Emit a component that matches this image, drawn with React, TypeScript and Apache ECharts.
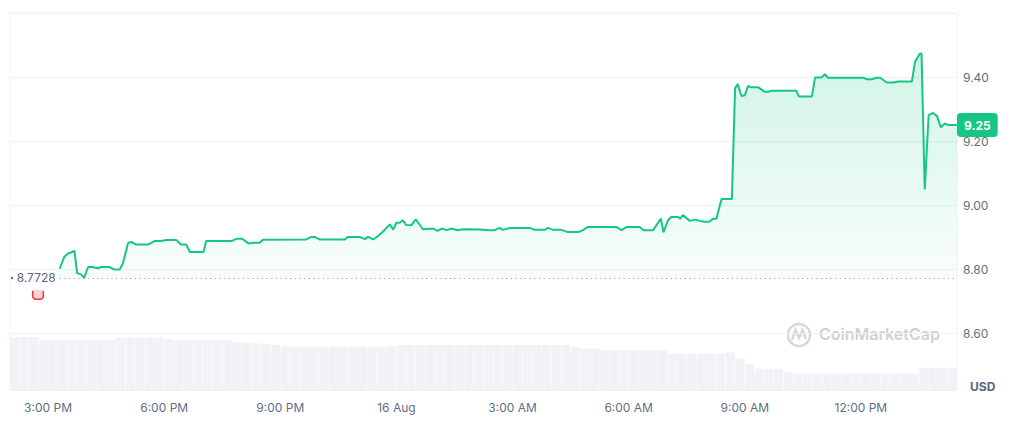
import { useEffect, useRef } from 'react'
import * as echarts from 'echarts'

// price points (MM-DD HH:MM, local time)
const priceTimes = [
  '08-15 15:18', '08-15 15:25', '08-15 15:31', '08-15 15:41', '08-15 15:45', '08-15 15:51',
  '08-15 15:56', '08-15 16:02', '08-15 16:09', '08-15 16:17', '08-15 16:22', '08-15 16:35',
  '08-15 16:43', '08-15 16:51', '08-15 16:56', '08-15 17:04', '08-15 17:09', '08-15 17:17',
  '08-15 17:35', '08-15 17:45', '08-15 17:55', '08-15 18:03', '08-15 18:19', '08-15 18:26',
  '08-15 18:34', '08-15 18:40', '08-15 19:01', '08-15 19:05', '08-15 19:44', '08-15 19:52',
  '08-15 20:01', '08-15 20:11', '08-15 20:18', '08-15 20:28', '08-15 20:33', '08-15 21:40',
  '08-15 21:48', '08-15 21:53', '08-15 22:01', '08-15 22:40', '08-15 22:45', '08-15 23:03',
  '08-15 23:11', '08-15 23:16', '08-15 23:24', '08-15 23:31', '08-15 23:39', '08-15 23:50',
  '08-15 23:55', '08-16 00:00', '08-16 00:05', '08-16 00:10', '08-16 00:15', '08-16 00:23',
  '08-16 00:30', '08-16 00:41', '08-16 00:57', '08-16 01:04', '08-16 01:10', '08-16 01:18',
  '08-16 01:25', '08-16 01:35', '08-16 01:43', '08-16 02:09', '08-16 02:25', '08-16 02:32',
  '08-16 02:40', '08-16 02:45', '08-16 02:56', '08-16 03:27', '08-16 03:34', '08-16 03:50',
  '08-16 03:55', '08-16 04:03', '08-16 04:16', '08-16 04:26', '08-16 04:42', '08-16 04:49',
  '08-16 04:57', '08-16 05:41', '08-16 05:49', '08-16 05:57', '08-16 06:17', '08-16 06:23',
  '08-16 06:38', '08-16 06:50', '08-16 06:54', '08-16 07:01', '08-16 07:06', '08-16 07:17',
  '08-16 07:20', '08-16 07:24', '08-16 07:35', '08-16 07:43', '08-16 07:50', '08-16 07:58',
  '08-16 08:05', '08-16 08:11', '08-16 08:16', '08-16 08:24', '08-16 08:40', '08-16 08:45',
  '08-16 08:49', '08-16 08:55', '08-16 09:00', '08-16 09:05', '08-16 09:10', '08-16 09:21',
  '08-16 09:31', '08-16 09:36', '08-16 09:42', '08-16 10:20', '08-16 10:24', '08-16 10:44',
  '08-16 10:49', '08-16 10:59', '08-16 11:04', '08-16 11:09', '08-16 12:04', '08-16 12:09',
  '08-16 12:17', '08-16 12:24', '08-16 12:30', '08-16 12:40', '08-16 12:50', '08-16 12:58',
  '08-16 13:19', '08-16 13:24', '08-16 13:31', '08-16 13:34', '08-16 13:39', '08-16 13:45',
  '08-16 13:52', '08-16 13:58', '08-16 14:04', '08-16 14:10', '08-16 14:16', '08-16 14:29',
]

const priceValues = [
  8.802, 8.838, 8.849, 8.857, 8.788, 8.784,
  8.773, 8.807, 8.807, 8.803, 8.807, 8.807,
  8.799, 8.799, 8.818, 8.882, 8.885, 8.877,
  8.877, 8.888, 8.888, 8.891, 8.891, 8.877,
  8.877, 8.854, 8.854, 8.888, 8.888, 8.895,
  8.895, 8.88, 8.883, 8.883, 8.892, 8.893,
  8.901, 8.901, 8.893, 8.893, 8.901, 8.901,
  8.894, 8.901, 8.893, 8.903, 8.917, 8.94,
  8.924, 8.945, 8.945, 8.953, 8.938, 8.937,
  8.956, 8.925, 8.927, 8.92, 8.927, 8.922,
  8.927, 8.922, 8.925, 8.924, 8.922, 8.922,
  8.929, 8.923, 8.929, 8.929, 8.923, 8.923,
  8.929, 8.923, 8.923, 8.916, 8.916, 8.922,
  8.932, 8.932, 8.922, 8.932, 8.932, 8.922,
  8.922, 8.958, 8.915, 8.953, 8.963, 8.963,
  8.958, 8.969, 8.951, 8.955, 8.951, 8.948,
  8.948, 8.958, 8.958, 9.019, 9.019, 9.365,
  9.378, 9.341, 9.343, 9.372, 9.368, 9.368,
  9.354, 9.354, 9.357, 9.357, 9.339, 9.339,
  9.399, 9.399, 9.409, 9.398, 9.398, 9.393,
  9.393, 9.398, 9.398, 9.383, 9.383, 9.386,
  9.386, 9.448, 9.472, 9.474, 9.049, 9.281,
  9.288, 9.278, 9.243, 9.255, 9.25, 9.25,
]

// 24h volume, one bar every 15 minutes from 14:00 (thousand USD)
const volumeStart = '08-15 14:00'
const volumeValues = [
  530, 530, 530, 500, 497, 497, 497, 497, 497, 497,
  497, 524, 524, 524, 524, 524, 510, 497, 497, 497,
  497, 497, 497, 480, 473, 466, 460, 453, 435, 430,
  430, 430, 430, 430, 430, 430, 430, 430, 430, 435,
  447, 447, 447, 447, 447, 447, 447, 447, 447, 447,
  447, 447, 447, 447, 447, 447, 447, 447, 430, 414,
  414, 397, 397, 397, 397, 397, 397, 397, 364, 364,
  364, 364, 364, 364, 375, 314, 264, 214, 214, 214,
  180, 164, 164, 164, 164, 164, 164, 164, 164, 164,
  164, 164, 164, 164, 224, 224, 224, 224,
]

const xTicks = [
  '08-15 15:00', '08-15 18:00', '08-15 21:00', '08-16 00:00',
  '08-16 03:00', '08-16 06:00', '08-16 09:00', '08-16 12:00',
]
const yTicks = [8.6, 8.8, 9.0, 9.2, 9.4]

const openPrice = 8.7728
const lastPrice = 9.25

const toTime = (s: string) => {
  const [md, hm] = s.split(' ')
  const [mo, d] = md.split('-').map(Number)
  const [h, m] = hm.split(':').map(Number)
  return new Date(2024, mo - 1, d, h, m).getTime()
}

const GREEN = '#16c784'
const GREY_TEXT = '#616e85'
const LINE = '#eff2f5'

export default function App() {
  const chartRef = useRef<HTMLDivElement>(null)

  useEffect(() => {
    if (!chartRef.current) return
    const chart = echarts.init(chartRef.current, undefined, { renderer: 'svg' })

    const priceData = priceTimes.map((t, i) => [toTime(t), priceValues[i]])
    const step = 15 * 60 * 1000
    const vStart = toTime(volumeStart)
    const volumeData = volumeValues.map((v, i) => [vStart + step * (i + 0.5), v])

    const xMin = toTime('08-15 14:01')
    const xMax = toTime('08-16 14:29')

    chart.setOption({
      animation: false,
      textStyle: { fontFamily: 'Inter' },
      grid: {
        left: 10,
        right: 53,
        top: 13,
        bottom: 42,
        show: true,
        borderColor: LINE,
        borderWidth: 1,
      },
      xAxis: {
        type: 'value',
        min: xMin,
        max: xMax,
        axisLine: { show: false },
        axisTick: { show: false },
        splitLine: { show: false },
        axisLabel: {
          color: GREY_TEXT,
          fontSize: 12,
          margin: 11,
          customValues: xTicks.map(toTime),
          formatter: (value: number) => {
            const d = new Date(value)
            const h = d.getHours()
            if (h === 0) return `${d.getDate()} Aug`
            const h12 = h % 12 === 0 ? 12 : h % 12
            return `${h12}:00 ${h < 12 ? 'AM' : 'PM'}`
          },
        },
      },
      yAxis: [
        {
          type: 'value',
          position: 'right',
          min: 8.423,
          max: 9.6,
          splitNumber: 5,
          axisLine: { show: false },
          axisTick: { show: false },
          splitLine: { lineStyle: { color: LINE } },
          axisLabel: {
            color: GREY_TEXT,
            fontSize: 12,
            margin: 6,
            showMinLabel: false,
            showMaxLabel: false,
            formatter: (v: number) =>
              yTicks.some((t) => Math.abs(t - v) < 1e-6) ? v.toFixed(2) : '',
          },
        },
        {
          type: 'value',
          min: 0,
          max: 3767,
          show: false,
          splitLine: { show: false },
        },
      ],
      series: [
        {
          name: 'Volume',
          type: 'custom',
          yAxisIndex: 1,
          silent: true,
          clip: true,
          data: volumeData,
          encode: { x: 0, y: 1 },
          renderItem: (_params: unknown, api: any) => {
            const t = api.value(0)
            const v = api.value(1)
            const top = api.coord([t - step / 2, v])
            const bottom = api.coord([t + step / 2, 0])
            return {
              type: 'rect',
              shape: {
                x: top[0] + 0.25,
                y: top[1],
                width: bottom[0] - top[0] - 0.5,
                height: bottom[1] - top[1],
              },
              style: { fill: '#f0f2f5' },
            }
          },
        },
        {
          name: 'Price',
          type: 'line',
          data: priceData,
          showSymbol: false,
          lineStyle: { color: GREEN, width: 2 },
          itemStyle: { color: GREEN },
          areaStyle: {
            origin: openPrice,
            color: new echarts.graphic.LinearGradient(0, 0, 0, 1, [
              { offset: 0, color: 'rgba(22,199,132,0.28)' },
              { offset: 1, color: 'rgba(22,199,132,0.04)' },
            ]),
          },
          markLine: {
            silent: true,
            symbol: ['none', 'none'],
            data: [
              [
                {
                  coord: [priceData[0][0], openPrice],
                  lineStyle: { color: '#9aa4b6', type: [1.2, 3.5], width: 1.2 },
                  label: {
                    show: true,
                    position: 'start',
                    formatter: String(openPrice),
                    color: '#58667e',
                    fontSize: 12,
                    distance: 4,
                  },
                },
                { coord: [xMax, openPrice] },
              ],
              {
                yAxis: lastPrice,
                lineStyle: { color: 'transparent', width: 0 },
                label: {
                  show: true,
                  position: 'end',
                  distance: 0,
                  formatter: lastPrice.toFixed(2),
                  color: '#fff',
                  fontWeight: 'bold',
                  fontSize: 12,
                  backgroundColor: GREEN,
                  borderRadius: 4,
                  padding: [6, 7],
                },
              },
            ],
          },
        },
      ],
      graphic: [
        {
          type: 'text',
          left: 970,
          top: 380,
          style: { text: 'USD', fill: '#58667e', font: 'bold 12px Inter' },
        },
        {
          type: 'circle',
          shape: { cx: 12, cy: 278, r: 1.2 },
          style: { fill: '#58667e' },
        },
        {
          type: 'rect',
          shape: { x: 32, y: 290, width: 12, height: 10, r: [0, 0, 3, 3] },
          style: { fill: '#f9d3d6' },
        },
        {
          type: 'polyline',
          shape: {
            points: [
              [32.7, 291],
              [32.7, 297],
              [35, 299.3],
              [41, 299.3],
              [43.3, 297],
              [43.3, 291],
            ],
          },
          style: { stroke: '#ea3943', lineWidth: 1.5, fill: 'none' },
        },
        {
          type: 'circle',
          shape: { cx: 799, cy: 335, r: 11 },
          style: { fill: 'none', stroke: '#d3d7de', lineWidth: 2.5 },
        },
        {
          type: 'polyline',
          shape: {
            points: [
              [792, 340],
              [795.5, 330],
              [799, 338],
              [802.5, 330],
              [806, 339],
            ],
          },
          style: { stroke: '#d3d7de', lineWidth: 2.5, fill: 'none' },
        },
        {
          type: 'text',
          left: 819,
          top: 326,
          style: {
            text: 'CoinMarketCap',
            fill: '#ccd1d9',
            font: '600 16px Inter',
          },
        },
      ],
    })

    return () => {
      chart.dispose()
    }
  }, [])

  return (
    <div
      ref={chartRef}
      style={{ position: 'fixed', left: 0, top: 0, width: 1010, height: 432, background: '#fff' }}
    />
  )
}
